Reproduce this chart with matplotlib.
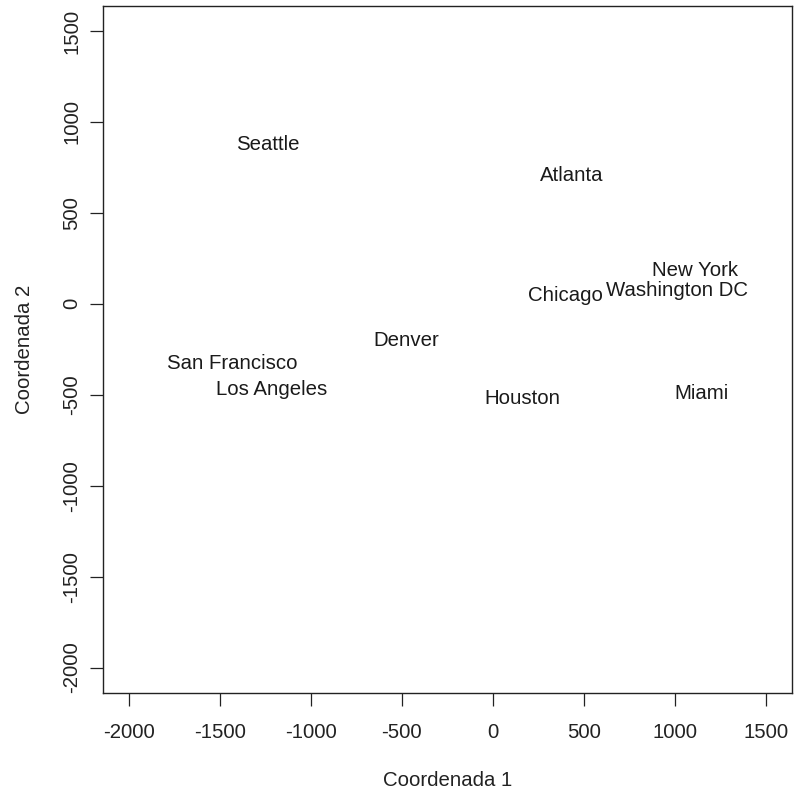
import matplotlib
matplotlib.use("Agg")
import matplotlib.pyplot as plt

cities = ["Atlanta", "Chicago", "Denver", "Houston", "Los Angeles", "Miami",
          "New York", "San Francisco", "Seattle", "Washington DC"]
coord1 = [429, 398, -475, 163, -1216, 1143, 1108, -1432, -1238, 1007]
coord2 = [705, 46, -202, -522, -473, -495, 183, -330, 874, 73]

ticks = [-2000, -1500, -1000, -500, 0, 500, 1000, 1500]

plt.rcParams['font.family'] = ['Liberation Sans', 'DejaVu Sans']
plt.rcParams['axes.unicode_minus'] = False
fs = 14.7

fig = plt.figure(figsize=(7.95, 7.98), dpi=100)
ax = fig.add_axes([103 / 795, 1 - 693 / 798, 689 / 795, 687.5 / 798])

for name, x, y in zip(cities, coord1, coord2):
    ax.text(x, y, name, ha="center", va="center", fontsize=fs, color="#1a1a1a")

ax.set_xlim(-2140, 1640)
ax.set_ylim(-2140, 1640)
ax.set_xticks(ticks)
ax.set_yticks(ticks)
ax.set_yticklabels([str(t) for t in ticks], rotation=90, va="center")
ax.tick_params(axis="both", length=9.5, width=0.9, color="#222222",
               labelsize=fs, labelcolor="#222222")
ax.tick_params(axis="x", pad=12)
ax.tick_params(axis="y", pad=6)
for s in ax.spines.values():
    s.set_linewidth(1.0)
    s.set_color("#222222")

ax.set_xlabel("Coordenada 1", fontsize=fs, color="#222222")
ax.set_ylabel("Coordenada 2", fontsize=fs, color="#222222")
ax.xaxis.set_label_coords(0.5, (693 - 781) / 687.5)
ax.xaxis.label.set_va("center")
ax.yaxis.set_label_coords((25 - 103) / 689, 0.5)
ax.yaxis.label.set_va("center")

fig.savefig("out.png", dpi=100)
